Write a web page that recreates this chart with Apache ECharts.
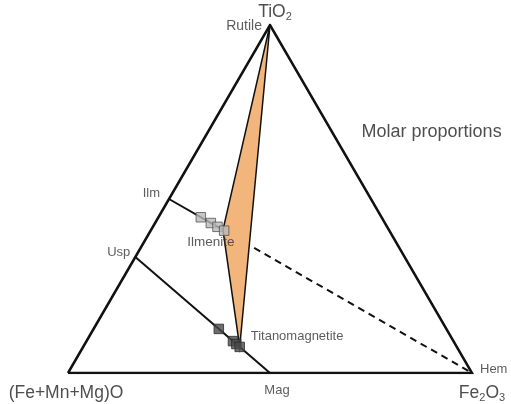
<!DOCTYPE html>
<html>
<head>
<meta charset="utf-8">
<script src="https://cdn.jsdelivr.net/npm/echarts@6/dist/echarts.min.js"></script>
<style>
  html, body { margin: 0; padding: 0; background: #fff; }
  #chart { width: 511px; height: 404px; }
</style>
</head>
<body>
<div id="chart"></div>
<script>
// Molar compositions as [TiO2, (Fe+Mn+Mg)O, Fe2O3]
const apexNames = ['TiO2', '(Fe+Mn+Mg)O', 'Fe2O3'];
const apexComps = [[1, 0, 0], [0, 1, 0], [0, 0, 1]];

const endMemberNames = ['Rutile', 'Ilm', 'Usp', 'Mag', 'Hem'];
const endMemberComps = [
  [1, 0, 0],          // rutile TiO2
  [0.5, 0.5, 0],      // ilmenite FeTiO3
  [1 / 3, 2 / 3, 0],  // ulvöspinel Fe2TiO4
  [0, 0.5, 0.5],      // magnetite Fe3O4
  [0, 0, 1]           // hematite Fe2O3
];

// Measured grains: fraction of Hem in ilmenite, fraction of Mag in titanomagnetite
const ilmeniteHemFraction = [0.105, 0.138, 0.16, 0.182];
const titanomagMagFraction = [0.62, 0.725, 0.75, 0.775];

// Limits of the Rutile–Ilmenite–Titanomagnetite field
const fieldIlmHem = 0.178;
const fieldTmtMag = 0.775;

const H = Math.sqrt(3) / 2;
// Ternary composition -> Cartesian point in the triangle frame
function tern(c) {
  const s = c[0] + c[1] + c[2];
  const a = c[0] / s, f = c[2] / s;
  return [f + a / 2, a * H];
}
function mix(p, q, t) {
  return [p[0] * (1 - t) + q[0] * t, p[1] * (1 - t) + q[1] * t, p[2] * (1 - t) + q[2] * t];
}
const comp = Object.fromEntries(endMemberNames.map((n, i) => [n, endMemberComps[i]]));

const ilmGrains = ilmeniteHemFraction.map(t => tern(mix(comp.Ilm, comp.Hem, t)));
const tmtGrains = titanomagMagFraction.map(t => tern(mix(comp.Usp, comp.Mag, t)));
const ilmEnd = mix(comp.Ilm, comp.Hem, fieldIlmHem);
const tmtEnd = mix(comp.Usp, comp.Mag, fieldTmtMag);
const fieldPts = [tern(comp.Rutile), tern(ilmEnd), tern(tmtEnd)];

const textColor = '#333';
const font = 'Liberation Sans, Arial, sans-serif';

const chart = echarts.init(document.getElementById('chart'), null, { renderer: 'canvas' });

function labelPoint(value, text, lbl) {
  return {
    value: value,
    label: Object.assign({
      show: true, formatter: text, color: textColor, fontFamily: font, fontSize: 13,
      rich: {
        b: { fontSize: 17.5, color: '#222', fontFamily: font },
        sub: { fontSize: 11, color: '#222', fontFamily: font, verticalAlign: 'bottom', padding: [8, 0, 0, 0] }
      }
    }, lbl)
  };
}

chart.setOption({
  animation: false,
  backgroundColor: '#fff',
  grid: { left: 68, right: 39, top: 25, bottom: 31 },
  xAxis: { type: 'value', min: 0, max: 1, show: false },
  yAxis: { type: 'value', min: 0, max: H, show: false },
  series: [
    // tie lines
    {
      type: 'line', symbol: 'none', z: 2,
      data: [tern(comp.Ilm), tern(ilmEnd)],
      lineStyle: { color: '#111', width: 2 }
    },
    {
      type: 'line', symbol: 'none', z: 2,
      data: [tern(ilmEnd), tern(comp.Hem)],
      lineStyle: { color: '#111', width: 2, type: [7, 5] }
    },
    {
      type: 'line', symbol: 'none', z: 2,
      data: [tern(comp.Usp), tern(comp.Mag)],
      lineStyle: { color: '#111', width: 2 }
    },
    // three-phase field
    {
      type: 'custom', z: 3,
      renderItem: function (params, api) {
        const pts = fieldPts.map(p => api.coord(p));
        return {
          type: 'polygon',
          shape: { points: pts },
          style: { fill: '#f2b57c', stroke: '#111', lineWidth: 1.5, lineJoin: 'miter' }
        };
      },
      data: [[0, 0]]
    },
    // triangle frame
    {
      type: 'line', symbol: 'none', z: 4,
      data: [tern(apexComps[1]), tern(apexComps[2]), tern(apexComps[0]), tern(apexComps[1])],
      lineStyle: { color: '#111', width: 2.5, join: 'miter' }
    },
    // grains
    {
      type: 'scatter', symbol: 'rect', symbolSize: 9.5, z: 5,
      data: ilmGrains,
      itemStyle: { color: '#b9b9b9', borderColor: '#555', borderWidth: 1 }
    },
    {
      type: 'scatter', symbol: 'rect', symbolSize: 9.5, z: 5,
      data: tmtGrains,
      itemStyle: { color: '#4a4a4a', borderColor: '#2a2a2a', borderWidth: 1 }
    },
    // labels
    {
      type: 'scatter', symbolSize: 0, z: 6, silent: true,
      data: [
        labelPoint(tern(apexComps[0]), '{b|TiO}{sub|2}', { position: 'top', offset: [5, 2] }),
        labelPoint(tern(apexComps[1]), '{b|(Fe+Mn+Mg)O}', { position: 'bottom', offset: [-2, 6] }),
        labelPoint(tern(apexComps[2]), '{b|Fe}{sub|2}{b|O}{sub|3}', { position: 'bottom', offset: [10, 6] }),
        labelPoint(tern(comp.Rutile), 'Rutile', { position: 'left', offset: [-3, 1], fontSize: 14 }),
        labelPoint(tern(comp.Ilm), 'Ilm', { position: 'left', offset: [-4, -6] }),
        labelPoint(tern(comp.Usp), 'Usp', { position: 'left', offset: [0, -5] }),
        labelPoint(tern(comp.Mag), 'Mag', { position: 'bottom', offset: [7, 6] }),
        labelPoint(tern(comp.Hem), 'Hem', { position: 'right', offset: [3, -4] }),
        labelPoint(ilmGrains[0], 'Ilmenite', { position: 'bottom', offset: [10, 13], fontSize: 13.5 }),
        labelPoint(tmtGrains[3], 'Titanomagnetite', { position: 'right', offset: [6, -10] }),
        labelPoint([0.9, 0.6], 'Molar proportions', { position: 'inside', fontSize: 18, color: '#222' })
      ]
    }
  ]
});
</script>
</body>
</html>
